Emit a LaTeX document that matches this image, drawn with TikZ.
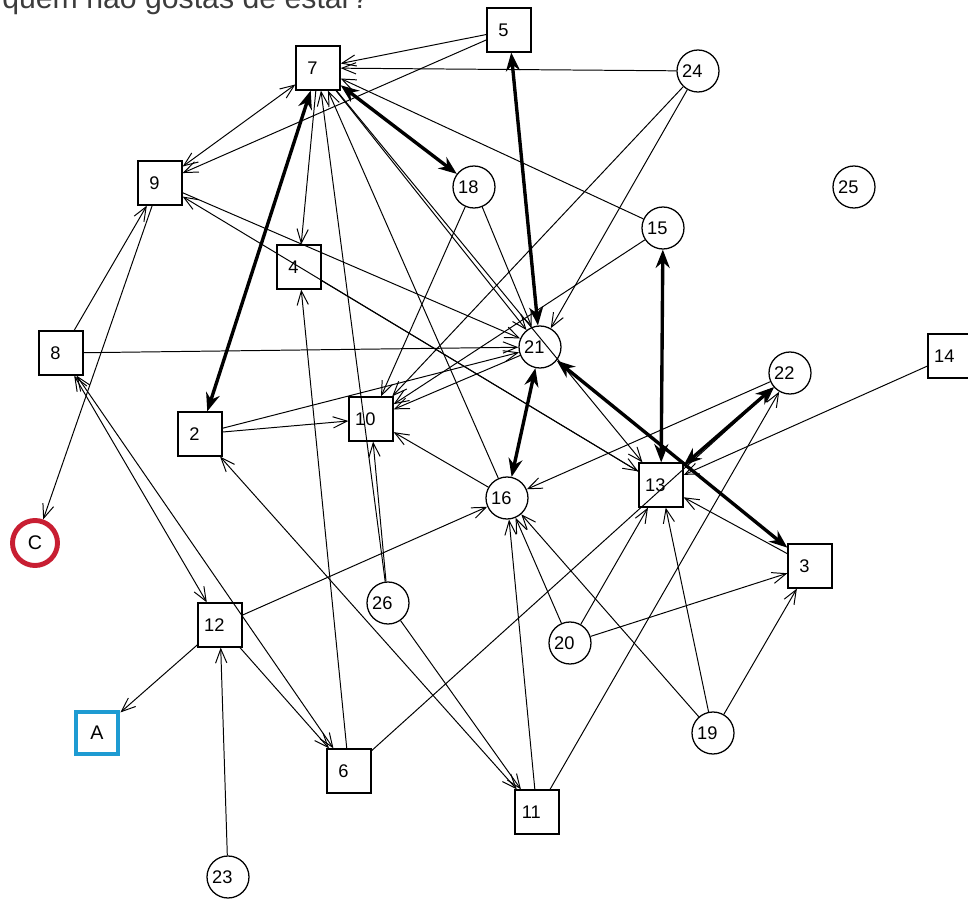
\documentclass[tikz,border=0pt]{standalone}
\usepackage{fontspec}
\setmainfont{Liberation Sans}
\usepackage{xcolor}
\usepackage{tikz}
\usetikzlibrary{arrows.meta}
\definecolor{markred}{RGB}{200,30,50}
\definecolor{markblue}{RGB}{30,155,210}
\definecolor{questgray}{RGB}{60,60,60}
\tikzset{
  boxnode/.style={rectangle, minimum size=1.1cm, inner sep=0pt, draw=black, line width=0.9pt, font=\fontsize{13}{15}\selectfont, execute at end node=\kern8pt},
  roundnode/.style={circle, minimum size=1.05cm, inner sep=0pt, draw=black, line width=0.9pt, font=\fontsize{13}{15}\selectfont, execute at end node=\kern8pt},
  markc/.style={circle, minimum size=1.125cm, inner sep=0pt, draw=markred, line width=3.5pt, font=\fontsize{14}{16}\selectfont},
  marka/.style={rectangle, minimum size=1.05cm, inner sep=0pt, draw=markblue, line width=3.5pt, font=\fontsize{14}{16}\selectfont},
  arrow/.style={line width=0.7pt, -{Straight Barb[length=10pt,width=8pt]}},
  twoway/.style={line width=0.7pt, {Straight Barb[length=10pt,width=8pt]}-{Straight Barb[length=10pt,width=8pt]}},
  boldarrow/.style={line width=2.4pt, {Stealth[length=13pt,width=10pt]}-{Stealth[length=13pt,width=10pt]}}
}
\begin{document}
\begin{tikzpicture}[x=0.025cm, y=-0.025cm]
\useasboundingbox (0,0) rectangle (968,899);
% question (cut at the top)
\node[anchor=base west, inner sep=0pt, text=questgray, font=\fontsize{21.5}{24}\selectfont] (quest) at (2,9) {quem não gostas de estar?};

% pupils
\node[boxnode] (n7) at (318,68) {7};
\node[boxnode] (n5) at (509,30) {5};
\node[roundnode] (n24) at (698,71) {24};
\node[boxnode] (n9) at (160,183) {9};
\node[roundnode] (n18) at (474,187) {18};
\node[roundnode] (n25) at (854,187) {25};
\node[roundnode] (n15) at (663,228) {15};
\node[boxnode] (n4) at (299,267) {4};
\node[boxnode] (n8) at (61,353) {8};
\node[roundnode] (n21) at (540,347) {21};
\node[boxnode] (n14) at (950,356) {14};
\node[roundnode] (n22) at (790,373) {22};
\node[boxnode] (n2) at (200,434) {2};
\node[boxnode] (n10) at (371,419) {10};
\node[roundnode] (n16) at (507,498) {16};
\node[boxnode] (n13) at (661,485) {13};
\node[boxnode] (n3) at (810,566) {3};
\node[roundnode] (n26) at (388,603) {26};
\node[boxnode] (n12) at (220,625) {12};
\node[roundnode] (n20) at (570,643) {20};
\node[roundnode] (n19) at (713,733) {19};
\node[boxnode] (n6) at (349,771) {6};
\node[boxnode] (n11) at (537,812) {11};
\node[roundnode] (n23) at (228,877) {23};

% marked ones
\node[markc] (nC) at (35,543) {C};
\node[marka] (nA) at (97,733) {A};

% mutual choices
\draw[boldarrow] (n7) -- (n2);
\draw[boldarrow] (n7) -- (n18);
\draw[boldarrow] (n5) -- (n21);
\draw[boldarrow] (n21) -- (n16);
\draw[boldarrow] (n15) -- (n13);
\draw[boldarrow] (n21) -- (n3);
\draw[boldarrow] (n22) -- (n13);

% single choices
\draw[arrow] (n5) -- (n7);
\draw[arrow] (n5) -- (n9);
\draw[arrow] (n24) -- (n7);
\draw[twoway] (n9) -- (n7);
\draw[arrow] (n8) -- (n9);
\draw[arrow] (n9) -- (nC);
\draw[arrow] (n8) -- (n21);
\draw[twoway] (n8) -- (n12);
\draw[twoway] (n8) -- (n6);
\draw[arrow] (n12) -- (n6);
\draw[arrow] (n12) -- (nA);
\draw[arrow] (n23) -- (n12);
\draw[arrow] (n12) -- (n16);
\draw[arrow] (n6) -- (n4);
\draw[arrow] (n6) -- (n22);
\draw[arrow] (n7) -- (n4);
\draw[arrow] (n4) -- (n13);
\draw[arrow] (n9) -- (n21);
\draw[arrow] (n13) -- (n9);
\draw[arrow] (n15) -- (n7);
\draw[arrow] (n24) -- (n10);
\draw[arrow] (n24) -- (n21);
\draw[arrow] (n15) -- (n10);
\draw[arrow] (n18) -- (n21);
\draw[arrow] (n18) -- (n10);
\draw[arrow] (n26) -- (n7);
\draw[arrow] (n16) -- (n7);
\draw[arrow] (n7) -- (n21);
\draw[arrow] (n7) -- (n13);
\draw[arrow] (n2) -- (n10);
\draw[arrow] (n2) -- (n21);
\draw[twoway] (n11) -- (n2);
\draw[arrow] (n11) -- (n16);
\draw[arrow] (n11) -- (n22);
\draw[arrow] (n20) -- (n16);
\draw[arrow] (n20) -- (n13);
\draw[arrow] (n20) -- (n3);
\draw[arrow] (n19) -- (n16);
\draw[arrow] (n19) -- (n13);
\draw[arrow] (n19) -- (n3);
\draw[arrow] (n22) -- (n16);
\draw[arrow] (n14) -- (n13);
\draw[arrow] (n3) -- (n13);
\draw[arrow] (n16) -- (n10);
\draw[arrow] (n21) -- (n10);
\draw[arrow] (n26) -- (n10);
\draw[arrow] (n26) -- (n11);
\end{tikzpicture}
\end{document}
